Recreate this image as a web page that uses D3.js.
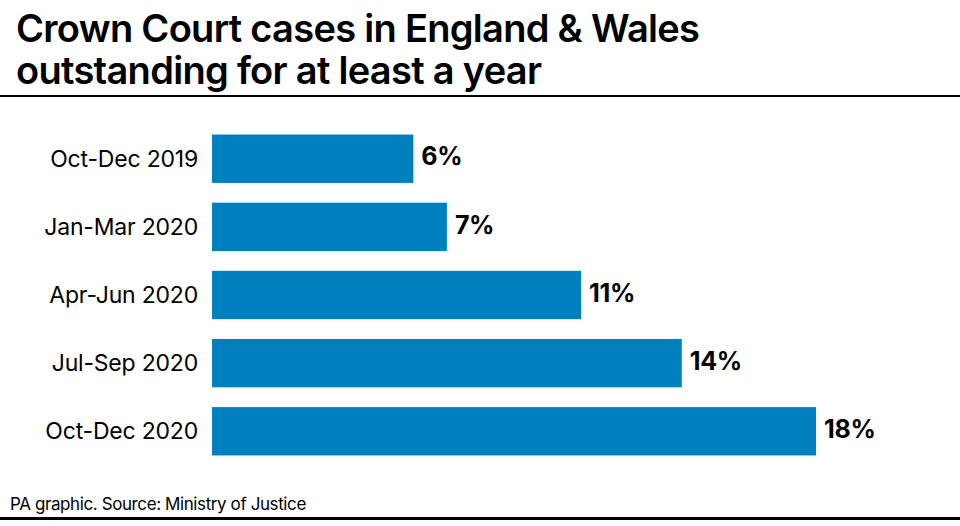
<!DOCTYPE html>
<html>
<head>
<meta charset="utf-8">
<script src="https://cdn.jsdelivr.net/npm/d3@7"></script>
<style>
  body { margin: 0; background: #fff; }
  svg { display: block; font-family: Inter, Roboto, sans-serif; }
</style>
</head>
<body>
<svg id="chart" width="960" height="526"></svg>
<script>
const periods = ["Oct-Dec 2019", "Jan-Mar 2020", "Apr-Jun 2020", "Jul-Sep 2020", "Oct-Dec 2020"];
const shares = [6, 7, 11, 14, 18];
const titleLines = ["Crown Court cases in England & Wales", "outstanding for at least a year"];
const sourceText = "PA graphic. Source: Ministry of Justice";

const svg = d3.select("#chart");
const width = +svg.attr("width");

// title
svg.selectAll(".title")
    .data(titleLines)
    .enter().append("text")
    .attr("class", "title")
    .attr("x", 16)
    .attr("y", (d, i) => 42 + i * 42)
    .attr("font-size", 38)
    .attr("font-weight", 600)
    .attr("letter-spacing", -0.7)
    .attr("fill", "#000")
    .text(d => d);

svg.append("rect").attr("x", 0).attr("y", 95).attr("width", width).attr("height", 2).attr("fill", "#000");
svg.append("rect").attr("x", 0).attr("y", 517).attr("width", width).attr("height", 3).attr("fill", "#000");

const x0 = 212;
const x = d3.scaleLinear().domain([0, 18]).range([x0, 816]);
const y = d3.scaleBand().domain(periods).range([125, 465]).paddingInner(0.29).paddingOuter(0.14);

// bars
svg.selectAll(".bar")
    .data(periods)
    .enter().append("rect")
    .attr("class", "bar")
    .attr("x", x0)
    .attr("y", d => y(d))
    .attr("width", (d, i) => x(shares[i]) - x0)
    .attr("height", y.bandwidth())
    .attr("fill", "#0080be");

// category labels
svg.selectAll(".cat")
    .data(periods)
    .enter().append("text")
    .attr("class", "cat")
    .attr("x", 198)
    .attr("y", d => y(d) + y.bandwidth() / 2)
    .attr("dy", "0.35em")
    .attr("text-anchor", "end")
    .attr("font-size", 23)
    .attr("letter-spacing", -0.2)
    .attr("fill", "#000")
    .text(d => d);

// value labels
svg.selectAll(".val")
    .data(periods)
    .enter().append("text")
    .attr("class", "val")
    .attr("x", (d, i) => x(shares[i]) + 8)
    .attr("y", d => y(d) + y.bandwidth() / 2 - 2)
    .attr("dy", "0.35em")
    .attr("font-size", 25)
    .attr("font-weight", 700)
    .attr("letter-spacing", -0.3)
    .attr("fill", "#000")
    .text((d, i) => shares[i] + "%");

svg.append("text")
    .attr("x", 10)
    .attr("y", 510)
    .attr("font-size", 17)
    .attr("letter-spacing", -0.4)
    .attr("fill", "#000")
    .text(sourceText);
</script>
</body>
</html>
